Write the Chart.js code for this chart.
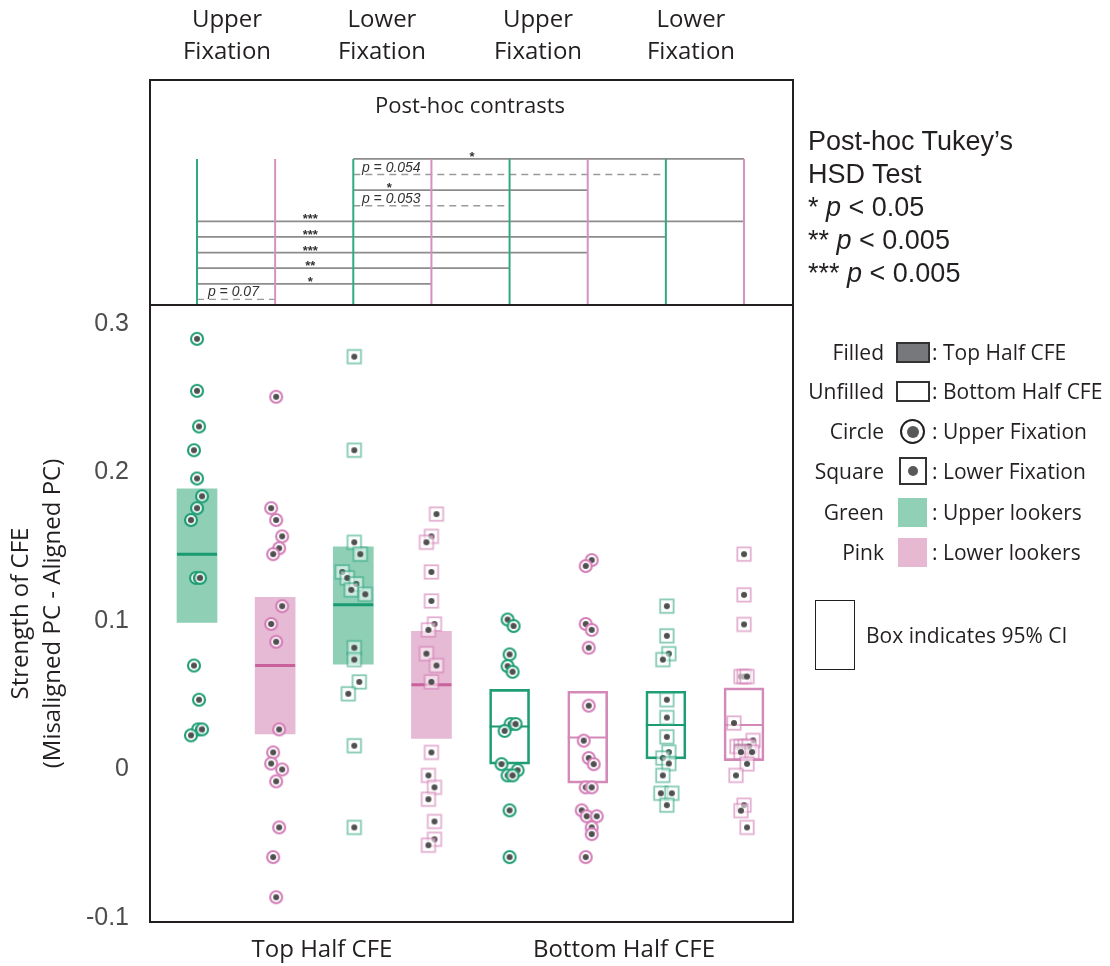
<!DOCTYPE html>
<html>
<head>
<meta charset="utf-8">
<script src="https://cdn.jsdelivr.net/npm/chart.js@4.4.1/dist/chart.umd.min.js"></script>
<style>
  body { margin: 0; background: #fff; }
  #wrap { position: relative; width: 1110px; height: 966px; overflow: hidden; font-family: "Open Sans", sans-serif; color: #231f20; }
  canvas { position: absolute; left: 0; top: 0; }
  .t { position: absolute; white-space: nowrap; }
  .hdr { top: 2px; width: 160px; text-align: center; font-size: 24px; line-height: 32px; }
  .tk { left: 808px; font-family: "Liberation Sans", Arial, sans-serif; font-size: 27px; line-height: 33px; }
  .lab { left: 700px; width: 184px; text-align: right; font-size: 21px; line-height: 30px; }
  .txt { left: 932px; font-size: 21px; line-height: 30px; }
  .sym { position: absolute; box-sizing: border-box; }
  .bot { width: 240px; text-align: center; font-size: 24px; line-height: 30px; top: 933px; }
</style>
</head>
<body>
<div id="wrap">
  <canvas id="cTop" width="1110" height="966"></canvas>
  <canvas id="cMain" width="1110" height="966"></canvas>

  <div class="t hdr" style="left:147px">Upper<br>Fixation</div>
  <div class="t hdr" style="left:302px">Lower<br>Fixation</div>
  <div class="t hdr" style="left:458px">Upper<br>Fixation</div>
  <div class="t hdr" style="left:611px">Lower<br>Fixation</div>

  <div class="t" style="left:320px;width:300px;text-align:center;top:89px;font-size:22px;line-height:30px">Post-hoc contrasts</div>

  <div class="t tk" style="top:125px">Post-hoc Tukey’s<br>HSD Test<br>* <i>p</i> &lt; 0.05<br>** <i>p</i> &lt; 0.005<br>*** <i>p</i> &lt; 0.005</div>

  <div class="t lab" style="top:337px">Filled</div>
  <div class="sym" style="left:896px;top:342px;width:34px;height:21px;border:2px solid #333;background:#77787b"></div>
  <div class="t txt" style="top:337px">: Top Half CFE</div>

  <div class="t lab" style="top:376px">Unfilled</div>
  <div class="sym" style="left:896px;top:381px;width:34px;height:21px;border:2px solid #333;background:#fff"></div>
  <div class="t txt" style="top:376px">: Bottom Half CFE</div>

  <div class="t lab" style="top:416px">Circle</div>
  <div class="sym" style="left:900px;top:419px;width:25px;height:25px;border:2.5px solid #231f20;border-radius:50%;background:#fff"></div>
  <div class="sym" style="left:906.5px;top:425.5px;width:12px;height:12px;border-radius:50%;background:#58595b"></div>
  <div class="t txt" style="top:416px">: Upper Fixation</div>

  <div class="t lab" style="top:456px">Square</div>
  <div class="sym" style="left:899px;top:457px;width:28px;height:28px;border:2px solid #333;background:#fff"></div>
  <div class="sym" style="left:908px;top:466px;width:10px;height:10px;border-radius:50%;background:#58595b"></div>
  <div class="t txt" style="top:456px">: Lower Fixation</div>

  <div class="t lab" style="top:497px">Green</div>
  <div class="sym" style="left:898px;top:498px;width:29px;height:29px;background:#8fd0b7"></div>
  <div class="t txt" style="top:497px">: Upper lookers</div>

  <div class="t lab" style="top:537px">Pink</div>
  <div class="sym" style="left:898px;top:538px;width:29px;height:29px;background:#e6b8d2"></div>
  <div class="t txt" style="top:537px">: Lower lookers</div>

  <div class="sym" style="left:815px;top:600px;width:40px;height:70px;border:1.5px solid #231f20"></div>
  <div class="t" style="left:866px;top:620px;font-size:21px;line-height:30px">Box indicates 95% CI</div>

  <div class="t bot" style="left:202px">Top Half CFE</div>
  <div class="t bot" style="left:504px">Bottom Half CFE</div>
</div>

<script>
// ---------- categories ----------
const categories = [
  'Top Half · Upper Fixation · Upper lookers',
  'Top Half · Upper Fixation · Lower lookers',
  'Top Half · Lower Fixation · Upper lookers',
  'Top Half · Lower Fixation · Lower lookers',
  'Bottom Half · Upper Fixation · Upper lookers',
  'Bottom Half · Upper Fixation · Lower lookers',
  'Bottom Half · Lower Fixation · Upper lookers',
  'Bottom Half · Lower Fixation · Lower lookers'
];
const half     = ['Top', 'Top', 'Top', 'Top', 'Bottom', 'Bottom', 'Bottom', 'Bottom'];
const fixation = ['Upper', 'Upper', 'Lower', 'Lower', 'Upper', 'Upper', 'Lower', 'Lower'];
const lookers  = ['Upper', 'Lower', 'Upper', 'Lower', 'Upper', 'Lower', 'Upper', 'Lower'];

// ---------- individual subjects (strength of CFE) ----------
const g1 = [0.290, 0.255, 0.231, 0.215, 0.196, 0.184, 0.176, 0.168, 0.129, 0.129, 0.070, 0.047, 0.027, 0.027, 0.023];
const g2 = [0.251, 0.176, 0.168, 0.157, 0.149, 0.145, 0.110, 0.098, 0.086, 0.027, 0.0115, 0.004, 0.000, -0.008, -0.039, -0.059, -0.086];
const g3 = [0.278, 0.215, 0.153, 0.145, 0.133, 0.129, 0.125, 0.121, 0.118, 0.082, 0.074, 0.059, 0.051, 0.016, -0.039];
const g4 = [0.172, 0.157, 0.153, 0.133, 0.1135, 0.098, 0.094, 0.078, 0.070, 0.059, 0.0115, -0.004, -0.012, -0.020, -0.035, -0.047, -0.051];
const g5 = [0.101, 0.0966, 0.0775, 0.0696, 0.0658, 0.0306, 0.0306, 0.026, 0.0036, -0.0005, -0.004, -0.004, -0.0275, -0.059];
const g6 = [0.141, 0.137, 0.098, 0.094, 0.082, 0.043, 0.0194, 0.0077, 0.0036, -0.012, -0.012, -0.0275, -0.0315, -0.0315, -0.039, -0.0435, -0.059];
const g7 = [0.110, 0.090, 0.078, 0.074, 0.047, 0.035, 0.022, 0.0117, 0.0077, 0.004, -0.004, -0.016, -0.016, -0.024];
const g8 = [0.145, 0.1176, 0.0977, 0.0626, 0.0626, 0.0626, 0.0313, 0.0196, 0.0155, 0.0155, 0.0155, 0.0155, 0.0117, 0.0117, 0.0038, -0.004, -0.024, -0.0277, -0.039];
const groups = [g1, g2, g3, g4, g5, g6, g7, g8];

// horizontal jitter (in 1/78 of a category step)
const j1 = [0, 0, 2, -3, 0, 5, 0, -6, -1, 3, -3, 2, 1, 5, -6];
const j2 = [1, -4, 1, 7, 4, -2, 7, -4, 1, 4, -2, -4, 7, 1, 4, -2, 1];
const j3 = [1, 1, 1, 7, -11, -6, 3, -2, 12, 1, 1, 6, -5, 1, 1];
const j4 = [5, 0, -5, 0, 0, 3, -3, -5, 5, 0, 0, -3, 3, -3, 3, 3, -3];
const j5 = [-2, 4, 0, -2, 3, 1, 6, -5, -8, 8, -2, 3, 0, 0];
const j6 = [4, -2, -2, 4, 1, 1, -4, 1, 6, -2, 4, -6, -1, 9, 4, 4, -2];
const j7 = [1, 1, 3, -3, 1, 1, 1, 3, -3, 3, -3, -5, 6, 1];
const j8 = [0, 0, 0, -3, 0, 3, -10, 9, -7, -3, 1, 5, -3, 8, 3, -8, 0, -3, 3];
const jitters = [j1, j2, j3, j4, j5, j6, j7, j8];
const JITTER_UNIT = 78;

// ---------- group summaries ----------
const means  = [0.145, 0.070, 0.111, 0.057, 0.029, 0.0216, 0.030, 0.030];
const ciLow  = [0.099, 0.024, 0.071, 0.021, 0.0036, -0.0092, 0.0072, 0.006];
const ciHigh = [0.189, 0.116, 0.150, 0.093, 0.054, 0.0527, 0.0527, 0.055];

// ---------- axis ticks ----------
const yTicks = [-0.1, 0, 0.1, 0.2, 0.3];

// ---------- post-hoc contrasts (Tukey HSD) ----------
const contrastFrom   = [3, 3, 3, 3, 1, 1, 1, 1, 1, 1];
const contrastTo     = [8, 7, 6, 5, 8, 7, 6, 5, 4, 2];
const contrastRow    = [0, 1, 2, 3, 4, 5, 6, 7, 8, 9];
const contrastLabel  = ['*', 'p = 0.054', '*', 'p = 0.053', '***', '***', '***', '**', '*', 'p = 0.07'];
const contrastLabelX = [4.52, 3.11, 3.46, 3.11, 2.45, 2.45, 2.45, 2.45, 2.45, 1.14];
const contrastDashed = [false, true, false, true, false, false, false, false, false, true];

// ---------- styles ----------
const GREEN = '#1f9e76', PINK = '#d47fb8';
const GREEN_FILL = 'rgba(30,160,110,0.5)', PINK_FILL = 'rgba(200,100,160,0.45)';
const GREEN_SQ = 'rgba(31,158,118,0.55)', PINK_SQ = 'rgba(206,112,172,0.55)';
const X_MIN = 0.3985, X_MAX = 8.627;

function makeMarker(shape, color) {
  const c = document.createElement('canvas');
  c.width = 18; c.height = 18;
  const g = c.getContext('2d');
  const m = 9;
  if (shape === 'circle') {
    g.beginPath(); g.arc(m, m, 6, 0, Math.PI * 2);
    g.fillStyle = 'rgba(255,255,255,0.75)'; g.fill();
    g.lineWidth = 2.1; g.strokeStyle = color; g.stroke();
  } else {
    g.fillStyle = 'rgba(255,255,255,0.55)'; g.fillRect(2.3, 2.3, 13.4, 13.4);
    g.lineWidth = 1.8; g.strokeStyle = color; g.strokeRect(2.3, 2.3, 13.4, 13.4);
  }
  g.beginPath(); g.arc(m, m, 3, 0, Math.PI * 2);
  g.fillStyle = '#505050'; g.fill();
  return c;
}
const markers = {
  'circle-Upper': makeMarker('circle', GREEN),
  'circle-Lower': makeMarker('circle', PINK),
  'rect-Upper': makeMarker('rect', GREEN_SQ),
  'rect-Lower': makeMarker('rect', PINK_SQ)
};

const framePlugin = {
  id: 'frame',
  afterDatasetsDraw(chart) {
    const { ctx, chartArea: a } = chart;
    ctx.save();
    ctx.strokeStyle = '#231f20';
    ctx.lineWidth = 2;
    ctx.strokeRect(a.left, a.top, a.right - a.left, a.bottom - a.top);
    ctx.restore();
  }
};

// ================= main chart =================
const mainDatasets = [];
mainDatasets.push({
  type: 'bar',
  label: '95% CI',
  data: categories.map((c, i) => ({ x: i + 1, y: [ciLow[i], ciHigh[i]] })),
  barThickness: 40,
  backgroundColor: half.map((h, i) => h === 'Top' ? (lookers[i] === 'Upper' ? GREEN_FILL : PINK_FILL) : 'rgba(0,0,0,0)'),
  borderColor: half.map((h, i) => h === 'Top' ? 'rgba(0,0,0,0)' : (lookers[i] === 'Upper' ? GREEN : '#d48ab9')),
  borderWidth: half.map(h => h === 'Top' ? 0 : 2),
  borderSkipped: false,
  order: 3
});
mainDatasets.push({
  type: 'scatter',
  label: 'mean',
  data: categories.map((c, i) => ({ x: i + 1, y: means[i] })),
  pointStyle: 'line',
  pointRadius: 20,
  pointHoverRadius: 20,
  pointBorderWidth: half.map(h => h === 'Top' ? 3 : 2),
  pointBorderColor: half.map((h, i) => lookers[i] === 'Upper' ? '#1a9a70' : (h === 'Top' ? '#c9629c' : '#d48ab9')),
  order: 2
});
groups.forEach((vals, i) => {
  const shape = fixation[i] === 'Upper' ? 'circle' : 'rect';
  mainDatasets.push({
    type: 'scatter',
    label: categories[i],
    data: vals.map((v, k) => ({ x: i + 1 + jitters[i][k] / JITTER_UNIT, y: v })),
    pointStyle: markers[shape + '-' + lookers[i]],
    pointRadius: 8,
    order: 1
  });
});

new Chart(document.getElementById('cMain'), {
  type: 'scatter',
  data: { datasets: mainDatasets },
  plugins: [framePlugin],
  options: {
    responsive: false,
    animation: false,
    devicePixelRatio: 1,
    layout: { padding: { left: 0, right: 317, top: 305, bottom: 44 } },
    plugins: { legend: { display: false }, tooltip: { enabled: false } },
    scales: {
      x: { type: 'linear', display: false, offset: false, grid: { offset: false }, min: X_MIN, max: X_MAX },
      y: {
        type: 'linear',
        min: -0.1027, max: 0.3128,
        beginAtZero: false,
        grid: { display: false, drawTicks: false },
        border: { display: false },
        afterBuildTicks: s => { s.ticks = yTicks.map(v => ({ value: v })); },
        afterFit: s => { s.width = 150; },
        ticks: {
          padding: 21,
          color: '#4d4d4d',
          font: { family: '"Liberation Sans", Arial, sans-serif', size: 25 },
          callback: v => (v === 0 ? '0' : v.toFixed(1))
        },
        title: {
          display: true,
          text: ['Strength of CFE', '(Misaligned PC - Aligned PC)'],
          color: '#231f20',
          font: { family: '"Open Sans", sans-serif', size: 24, lineHeight: 1.3 },
          padding: { top: 6, bottom: 0 }
        }
      }
    }
  }
});

// ================= post-hoc contrast panel =================
const ROW_MIN = -5.06, ROW_MAX = 9.36;
const topDatasets = [];
categories.forEach((c, i) => {
  topDatasets.push({
    label: 'col ' + (i + 1),
    data: [{ x: i + 1, y: contrastRow[0] }, { x: i + 1, y: ROW_MAX }],
    showLine: true,
    borderColor: lookers[i] === 'Upper' ? '#2fab82' : '#d690c2',
    borderWidth: 2,
    pointRadius: 0,
    order: 0
  });
});
contrastFrom.forEach((f, k) => {
  topDatasets.push({
    label: 'contrast ' + k,
    data: [{ x: f, y: contrastRow[k] }, { x: contrastTo[k], y: contrastRow[k] }],
    showLine: true,
    borderColor: contrastDashed[k] ? '#9a9a9a' : '#8c8c8c',
    borderWidth: contrastDashed[k] ? 1.4 : 1.8,
    borderDash: contrastDashed[k] ? [7, 5] : [],
    pointRadius: 0,
    order: 1
  });
});

const contrastText = {
  id: 'contrastText',
  afterDatasetsDraw(chart) {
    const { ctx, scales: { x, y } } = chart;
    ctx.save();
    ctx.fillStyle = '#333';
    ctx.textBaseline = 'alphabetic';
    contrastLabel.forEach((t, k) => {
      const px = x.getPixelForValue(contrastLabelX[k]);
      const py = y.getPixelForValue(contrastRow[k]);
      if (t.charAt(0) === 'p') {
        ctx.font = 'italic 14px "Liberation Sans", Arial, sans-serif';
        ctx.textAlign = 'left';
        ctx.fillText(t, px, py - 3);
      } else {
        ctx.font = 'bold 13px "Liberation Sans", Arial, sans-serif';
        ctx.textAlign = 'center';
        ctx.fillText(t, px, py + 2);
      }
    });
    ctx.restore();
  }
};

new Chart(document.getElementById('cTop'), {
  type: 'scatter',
  data: { datasets: topDatasets },
  plugins: [framePlugin, contrastText],
  options: {
    responsive: false,
    animation: false,
    devicePixelRatio: 1,
    layout: { padding: { left: 150, right: 317, top: 80, bottom: 661 } },
    plugins: { legend: { display: false }, tooltip: { enabled: false } },
    scales: {
      x: { type: 'linear', display: false, min: X_MIN, max: X_MAX },
      y: { type: 'linear', display: false, reverse: true, min: ROW_MIN, max: ROW_MAX }
    }
  }
});
</script>
</body>
</html>
